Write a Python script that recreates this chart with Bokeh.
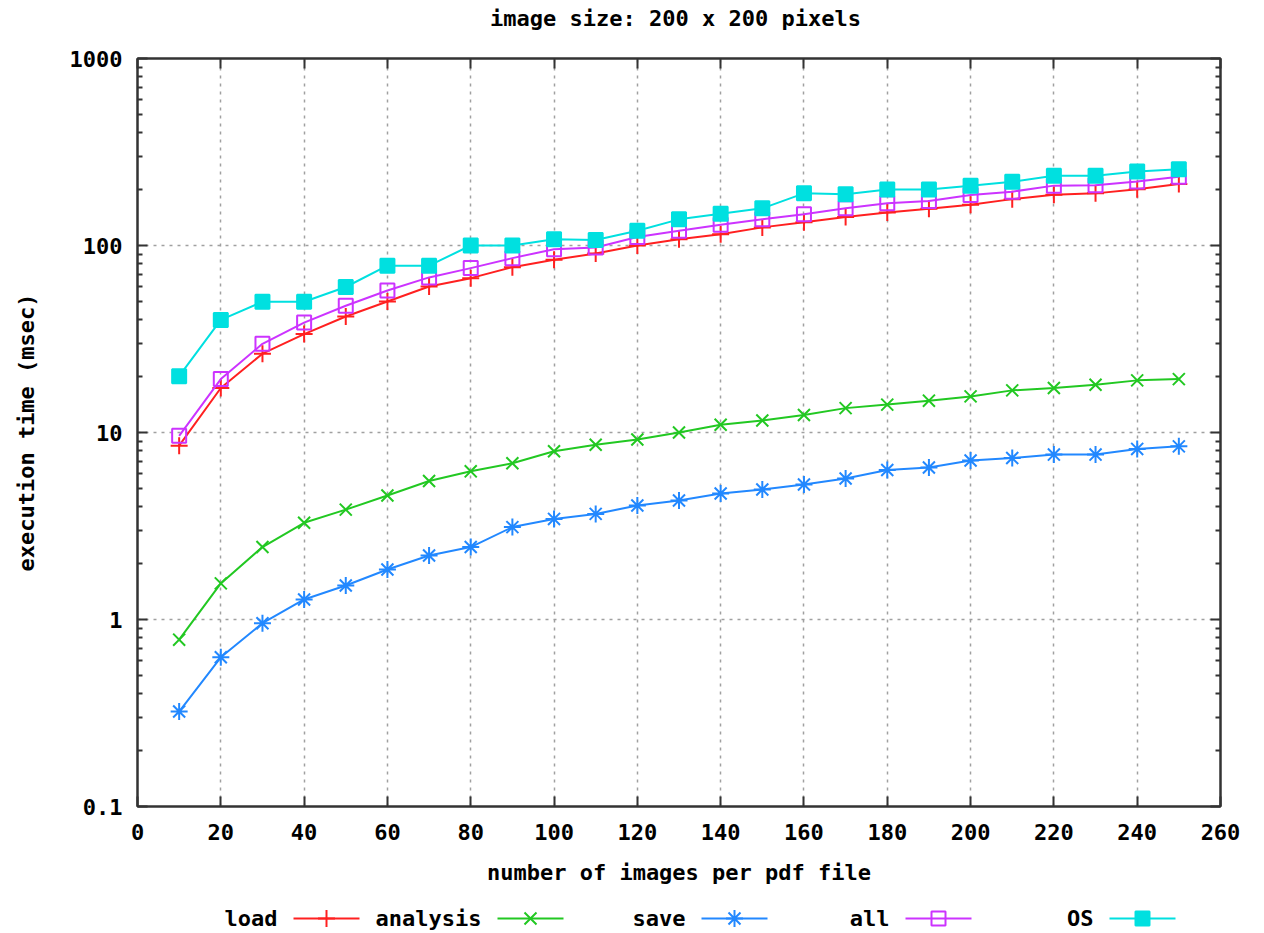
from bokeh.plotting import figure
from bokeh.models import FixedTicker, LinearAxis, LogAxis, Range1d, ColumnDataSource
from bokeh.layouts import column
from bokeh.embed import file_html
from bokeh.resources import INLINE
from bokeh.core.properties import value

# ---------------- data ----------------
images = [10, 20, 30, 40, 50, 60, 70, 80, 90, 100, 110, 120, 130,
          140, 150, 160, 170, 180, 190, 200, 210, 220, 230, 240, 250]
load = [8.5, 17.3, 26.4, 33.6, 41.7, 50.2, 60.4, 66.9, 76.6, 83.8, 90.6, 100, 108,
        115, 125, 133, 142, 150, 157, 165, 177, 187, 190, 200, 213]
analysis = [0.78, 1.56, 2.44, 3.29, 3.87, 4.6, 5.5, 6.2, 6.85, 7.94, 8.6, 9.18, 10.0,
            11.0, 11.6, 12.4, 13.5, 14.1, 14.8, 15.6, 16.8, 17.3, 18.0, 19.0, 19.3]
save = [0.322, 0.628, 0.955, 1.28, 1.52, 1.85, 2.2, 2.44, 3.12, 3.45, 3.67, 4.07, 4.33,
        4.72, 4.96, 5.27, 5.68, 6.3, 6.5, 7.08, 7.3, 7.62, 7.62, 8.17, 8.43]
all_ = [9.6, 19.3, 29.8, 38.7, 47.6, 57.5, 67.5, 75.7, 85.6, 95.6, 97.6, 111, 120,
        129, 138, 147, 158, 168, 173, 186, 194, 209, 210, 220, 233]
os_ = [20, 40, 50, 50, 60, 78, 78, 100, 100, 108, 107, 120, 138,
       148, 158, 190, 188, 199, 199, 209, 219, 236, 236, 249, 256]

series_names = ["load", "analysis", "save", "all", "OS"]
series_values = [load, analysis, save, all_, os_]
series_colors = ["#ff2020", "#22c822", "#2288ff", "#cc33ff", "#00e0e0"]
series_markers = ["cross", "x", "asterisk", "square", "square"]
series_fill = [False, False, False, False, True]

title_text = "image size: 200 x 200 pixels"
x_ticks = list(range(0, 261, 20))
y_ticks = [0.1, 1, 10, 100, 1000]
y_tick_labels = ["0.1", "1", "10", "100", "1000"]
y_minor = [m * d for d in [0.1, 1, 10, 100] for m in range(2, 10)]

FONT = "DejaVu Sans Mono"
FS = "22px"
FRAME = "#333333"

W = 1256
H0 = 36
H1 = 857
BL, BR, BT, BB = 137, 36, 22, 87


def blank_fig(height):
    f = figure(width=W, height=height, x_range=Range1d(BL, W - BR), y_range=Range1d(0, height),
               output_backend="svg", toolbar_location=None,
               min_border_left=0, min_border_right=0,
               min_border_top=0, min_border_bottom=0)
    f.xaxis.visible = False
    f.yaxis.visible = False
    f.xgrid.visible = False
    f.ygrid.visible = False
    f.outline_line_color = None
    f.border_fill_color = "white"
    f.background_fill_color = "white"
    return f


# ---------------- title strip ----------------
top = blank_fig(H0)
top.text(x=[675], y=[H0 / 2], text=[title_text], text_align="center", text_baseline="middle",
         text_font=value(FONT), text_font_style="bold", text_font_size=FS, text_color="black")

# ---------------- main plot ----------------
p = figure(width=W, height=H1, y_axis_type="log",
           x_range=Range1d(0, 260), y_range=Range1d(0.1, 1000),
           output_backend="svg", toolbar_location=None,
           min_border_left=BL, min_border_right=BR, min_border_top=BT, min_border_bottom=BB)

p.outline_line_color = FRAME
p.outline_line_width = 2
p.background_fill_color = "white"
p.border_fill_color = "white"


def style_axis(ax, labels=True):
    ax.axis_line_color = FRAME
    ax.axis_line_width = 2
    ax.major_tick_line_color = FRAME
    ax.minor_tick_line_color = FRAME
    ax.major_tick_line_width = 2
    ax.minor_tick_line_width = 2
    ax.major_tick_in = 10
    ax.major_tick_out = 0
    ax.minor_tick_in = 5
    ax.minor_tick_out = 0
    ax.major_label_text_font = FONT
    ax.major_label_text_font_style = "bold"
    if labels:
        ax.major_label_text_color = "black"
        ax.major_label_text_font_size = FS
    else:
        ax.major_label_text_color = None
        ax.major_label_text_font_size = "8px"
    ax.axis_label_text_font = FONT
    ax.axis_label_text_font_style = "bold"
    ax.axis_label_text_font_size = FS
    ax.axis_label_text_color = "black"


xb = p.xaxis[0]
xb.ticker = FixedTicker(ticks=x_ticks)
style_axis(xb)
xb.major_label_standoff = 17
xb.axis_label = "number of images per pdf file"
xb.axis_label_standoff = 17

yl = p.yaxis[0]
yl.ticker = FixedTicker(ticks=y_ticks, minor_ticks=y_minor)
yl.major_label_overrides = {t: s for t, s in zip(y_ticks, y_tick_labels)}
style_axis(yl)
yl.major_label_standoff = 15
yl.axis_label = "execution time (msec)"
yl.axis_label_standoff = 28

xt = LinearAxis(ticker=FixedTicker(ticks=x_ticks))
style_axis(xt, labels=False)
xt.major_label_standoff = 0
p.add_layout(xt, "above")

yr = LogAxis(ticker=FixedTicker(ticks=y_ticks, minor_ticks=y_minor))
style_axis(yr, labels=False)
yr.major_label_standoff = 0
p.add_layout(yr, "right")

p.xgrid.ticker = FixedTicker(ticks=x_ticks)
p.ygrid.ticker = FixedTicker(ticks=y_ticks)
for g in (p.xgrid[0], p.ygrid[0]):
    g.grid_line_color = "#a0a0a0"
    g.grid_line_width = 1.5
    g.grid_line_dash = "3 5"

for name, vals, col, mk, filled in zip(series_names, series_values, series_colors,
                                        series_markers, series_fill):
    src = ColumnDataSource(dict(x=images, y=vals))
    p.line("x", "y", source=src, line_color=col, line_width=2)
    size = 14 if mk == "square" else 17
    p.scatter("x", "y", source=src, marker=mk, size=size, line_color=col,
              line_width=2, fill_color=col if filled else None)

# ---------------- legend (text left of sample, like gnuplot) ----------------
H2 = 39
leg = blank_fig(H2)
step = 204
text_right = [277 + i * step for i in range(len(series_names))]
seg_x0 = [t + 16 for t in text_right]
seg_x1 = [t + 82 for t in text_right]
mark_x = [t + 49 for t in text_right]
ly = [14] * len(series_names)

leg.text(x=text_right, y=ly, text=series_names, text_align="right", text_baseline="middle",
         text_font=value(FONT), text_font_style="bold", text_font_size=FS, text_color="black")
leg.segment(x0=seg_x0, y0=ly, x1=seg_x1, y1=ly, line_color=series_colors, line_width=2)
for i, (col, mk, filled) in enumerate(zip(series_colors, series_markers, series_fill)):
    size = 14 if mk == "square" else 17
    leg.scatter([mark_x[i]], [ly[i]], marker=mk, size=size, line_color=col, line_width=2,
                fill_color=col if filled else None)

layout = column(top, p, leg, spacing=0)
open("out.html", "w").write(file_html(layout, INLINE))
